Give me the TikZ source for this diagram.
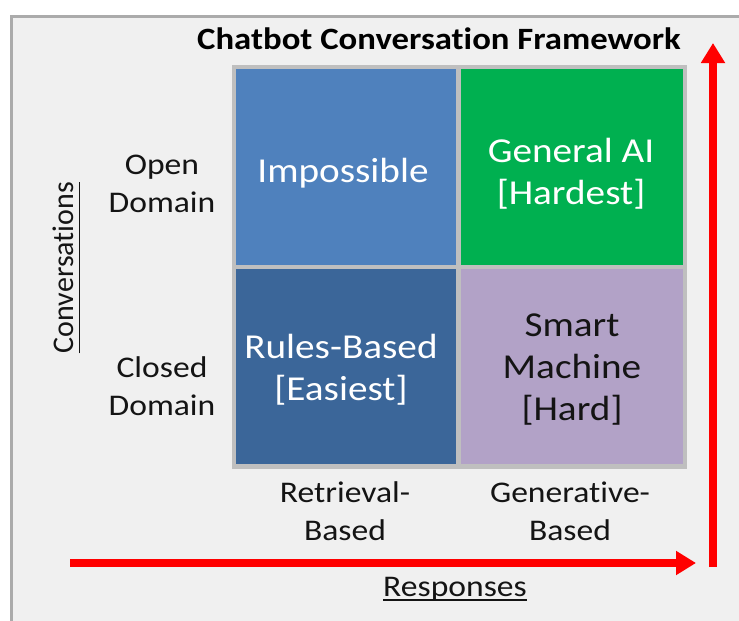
\documentclass[tikz,border=0pt]{standalone}
\usepackage{fontspec}
\setmainfont{Carlito}[FakeStretch=1.12, Ligatures=NoCommon]
\newfontfamily\rotfont{Carlito}[Ligatures=NoCommon]
\usetikzlibrary{arrows.meta}
\definecolor{bgfill}{HTML}{F0F0F0}
\definecolor{framegray}{HTML}{ABABAB}
\definecolor{cellborder}{HTML}{BFBFBF}
\definecolor{bluelight}{HTML}{4F81BD}
\definecolor{bluedark}{HTML}{3B6699}
\definecolor{greencell}{HTML}{00B050}
\definecolor{purplecell}{HTML}{B2A2C7}
\definecolor{arrowred}{HTML}{FF0000}
\definecolor{textdark}{HTML}{141414}
\begin{document}
\begin{tikzpicture}[x=1pt,y=-1pt,
  cellbox/.style={draw=cellborder, line width=4.5pt, inner sep=0},
  celltext/.style={inner sep=0, align=center, font=\fontsize{35}{42}\selectfont, anchor=base},
  sidelabel/.style={inner sep=0, align=center, font=\fontsize{30}{38}\selectfont, anchor=base, text=textdark},
  axisarrow/.style={draw=arrowred, line width=8pt, -{Triangle[length=20pt,width=23pt]}},
  uline/.style={line width=1.6pt, draw=textdark}]
\useasboundingbox (0,0) rectangle (739,621);
\fill[white] (0,0) rectangle (739,621);
\draw[framegray, line width=3pt, fill=bgfill] (11,16) rectangle (760,640);
% cells
\path[cellbox, fill=bluelight] (234,67) rectangle (458.5,267);
\path[cellbox, fill=greencell] (458.5,67) rectangle (685,267);
\path[cellbox, fill=bluedark] (234,267) rectangle (458.5,466.5);
\path[cellbox, fill=purplecell] (458.5,267) rectangle (685,466.5);
% title
\node[inner sep=0, anchor=base, text=black, font=\fontsize{31}{36}\selectfont\bfseries] (title) at (439,49) {Chatbot Conversation Framework};
% cell texts (base = last line)
\node[celltext, text=white] (imp) at (343,182) {Impossible};
\node[celltext, text=white] (gen) at (571,204) {General AI\\{[Hardest]}};
\node[celltext, text=white] (rul) at (341,400) {Rules-Based\\{[Easiest]}};
\node[celltext, text=textdark] (sma) at (572,420) {Smart\\Machine\\{[Hard]}};
% side labels
\node[sidelabel] (open) at (162,212) {Open\\Domain};
\node[sidelabel] (closed) at (162,415) {Closed\\Domain};
\node[sidelabel] (retr) at (345,540) {Retrieval-\\Based};
\node[sidelabel] (gener) at (570,540) {Generative-\\Based};
\node[sidelabel] (resp) at (455,596) {Responses};
\node[sidelabel, font=\rotfont\fontsize{30}{38}\selectfont, rotate=90] (conv) at (73,267.5) {Conversations};
\draw[uline] ([yshift=-4pt]resp.base west) -- ([yshift=-4pt]resp.base east);
\draw[uline] ([xshift=6.5pt]conv.base west) -- ([xshift=6.5pt]conv.base east);
% arrows
\coordinate (hstart) at (70,563);
\coordinate (hend) at (696,563);
\coordinate (vstart) at (713,567);
\coordinate (vend) at (713,43);
\draw[axisarrow] (hstart) -- (hend);
\draw[axisarrow] (vstart) -- (vend);
\end{tikzpicture}
\end{document}
